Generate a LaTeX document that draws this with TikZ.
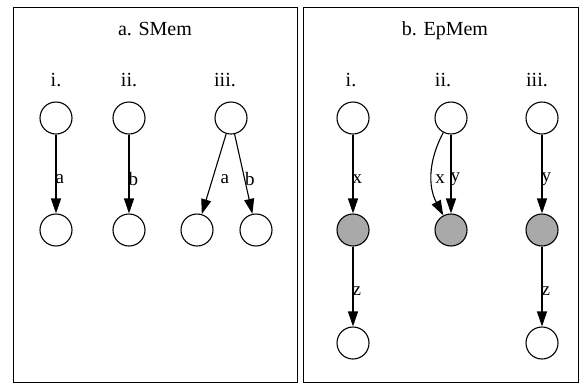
\documentclass[tikz,border=0pt]{standalone}
\usepackage{fontspec}
\setmainfont{Liberation Serif}
\usetikzlibrary{arrows.meta}
\definecolor{nodegray}{RGB}{169,169,169}
\tikzset{
  vert/.style={circle, draw, line width=1.1pt, minimum size=32pt, inner sep=0pt},
  hit/.style={vert, fill=nodegray},
  arr/.style={line width=1.1pt, -{Triangle[length=15pt,width=10pt]}},
  panel/.style={draw, line width=1pt},
  ttl/.style={font=\fontsize{20}{22}\selectfont, anchor=base},
  lab/.style={font=\fontsize{19}{21}\selectfont, anchor=west, inner sep=0pt, yshift=-5pt},
}
\begin{document}
\begin{tikzpicture}[x=1pt,y=-1pt]
\useasboundingbox (0,0) rectangle (581,384);
\draw[panel] (13,7) rectangle (297,382);
\draw[panel] (303,7) rectangle (578,382);

\node[ttl] (ta) at (155,35) {a. SMem};
\node[ttl] (tb) at (445,35) {b. EpMem};

\node[ttl] (ai) at (56,86) {i.};
\node[ttl] (aii) at (129,86) {ii.};
\node[ttl] (aiii) at (225,86) {iii.};
\node[ttl] (bi) at (351,86) {i.};
\node[ttl] (bii) at (443,86) {ii.};
\node[ttl] (biii) at (537,86) {iii.};

% SMem
\node[vert] (s1t) at (56,118) {};
\node[vert] (s1b) at (56,230) {};
\node[vert] (s2t) at (129,118) {};
\node[vert] (s2b) at (129,230) {};
\node[vert] (s3t) at (231,118) {};
\node[vert] (s3l) at (197,230) {};
\node[vert] (s3r) at (256,230) {};
\draw[arr] (s1t) -- node[lab, pos=0.5, xshift=-1pt] {a} (s1b);
\draw[arr] (s2t) -- node[lab, pos=0.5, xshift=-1pt] {b} (s2b);
\draw[arr] (s3t) -- node[lab, pos=0.5, xshift=6pt] {a} (s3l);
\draw[arr] (s3t) -- node[lab, pos=0.5, xshift=1pt] {b} (s3r);

% EpMem
\node[vert] (e1t) at (353,118) {};
\node[hit]  (e1m) at (353,230) {};
\node[vert] (e1b) at (353,343) {};
\node[vert] (e2t) at (451,118) {};
\node[hit]  (e2m) at (451,230) {};
\node[vert] (e3t) at (542,118) {};
\node[hit]  (e3m) at (542,230) {};
\node[vert] (e3b) at (542,343) {};
\draw[arr] (e1t) -- node[lab, pos=0.5, xshift=-1pt] {x} (e1m);
\draw[arr] (e1m) -- node[lab, pos=0.5, xshift=-1pt] {z} (e1b);
\draw[arr] (e2t) -- node[lab, pos=0.5, xshift=-1pt] {y} (e2m);
\draw[arr] (e2t) to[out=242, in=118] node[lab, pos=0.5, xshift=3pt] {x} (e2m);
\draw[arr] (e3t) -- node[lab, pos=0.5, xshift=-1pt] {y} (e3m);
\draw[arr] (e3m) -- node[lab, pos=0.5, xshift=-1pt] {z} (e3b);
\end{tikzpicture}
\end{document}
